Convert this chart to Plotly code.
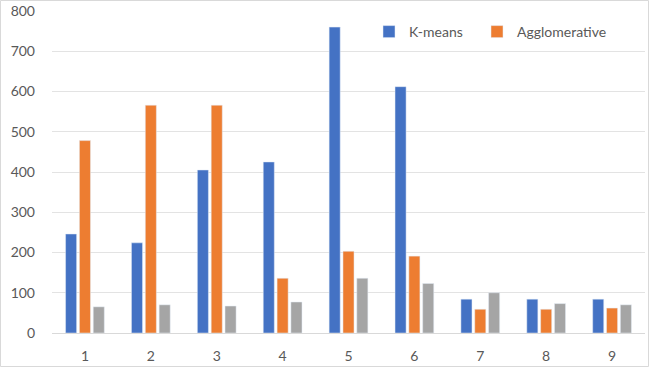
import plotly.graph_objects as go

categories = ["1", "2", "3", "4", "5", "6", "7", "8", "9"]
kmeans = [246, 224, 405, 425, 760, 612, 84, 84, 84]
agglomerative = [478, 566, 566, 136, 203, 191, 59, 59, 62]
third = [65, 70, 67, 77, 136, 123, 100, 73, 70]
y_ticks = [0, 100, 200, 300, 400, 500, 600, 700, 800]

W, H = 650, 368
ML, MR, MT, MB = 52, 5, 11, 35
PW, PH = W - ML - MR, H - MT - MB

font_family = "Lato, 'Open Sans', sans-serif"

fig = go.Figure()
fig.add_trace(go.Bar(x=categories, y=kmeans, name="K-means", marker_color="#4472c4", legend="legend"))
fig.add_trace(go.Bar(x=categories, y=agglomerative, name="Agglomerative", marker_color="#ed7d31", legend="legend2"))
fig.add_trace(go.Bar(x=categories, y=third, name="", marker_color="#a5a5a5", showlegend=False))

def px_x(p):
    return (p - ML) / PW

def px_y(p):
    return (H - MB - p) / PH

legend_style = dict(orientation="h", y=px_y(32), xanchor="left", yanchor="middle",
                    bgcolor="rgba(0,0,0,0)", font=dict(size=14, color="#595959"), itemwidth=30)

fig.update_layout(
    width=W, height=H,
    margin=dict(l=ML, r=MR, t=MT, b=MB, autoexpand=False),
    paper_bgcolor="white", plot_bgcolor="white",
    barmode="group", bargap=0.37, bargroupgap=0.2,
    font=dict(family=font_family, size=14, color="#595959"),
    legend=dict(x=px_x(369), **legend_style),
    legend2=dict(x=px_x(477), **legend_style),
    xaxis=dict(showgrid=False, showline=True, linecolor="#d9d9d9", linewidth=1, automargin=False,
               ticks="", ticklabelstandoff=10, tickfont=dict(size=14, color="#595959")),
    yaxis=dict(range=[0, 800], tickvals=y_ticks, showgrid=True, gridcolor="#e3e3e3", automargin=False,
               gridwidth=1, zeroline=False, showline=False, ticks="",
               ticklabelstandoff=16, tickfont=dict(size=14, color="#595959")),
    shapes=[dict(type="rect", xref="paper", yref="paper",
                 x0=px_x(0.5), x1=px_x(648.5), y0=px_y(366.5), y1=px_y(0.5),
                 line=dict(color="#d9d9d9", width=1), fillcolor="rgba(0,0,0,0)", layer="below")],
)

fig.write_html("out.html", config={"displayModeBar": False},
               post_script="document.body.style.margin='0';document.body.style.overflow='hidden';")
